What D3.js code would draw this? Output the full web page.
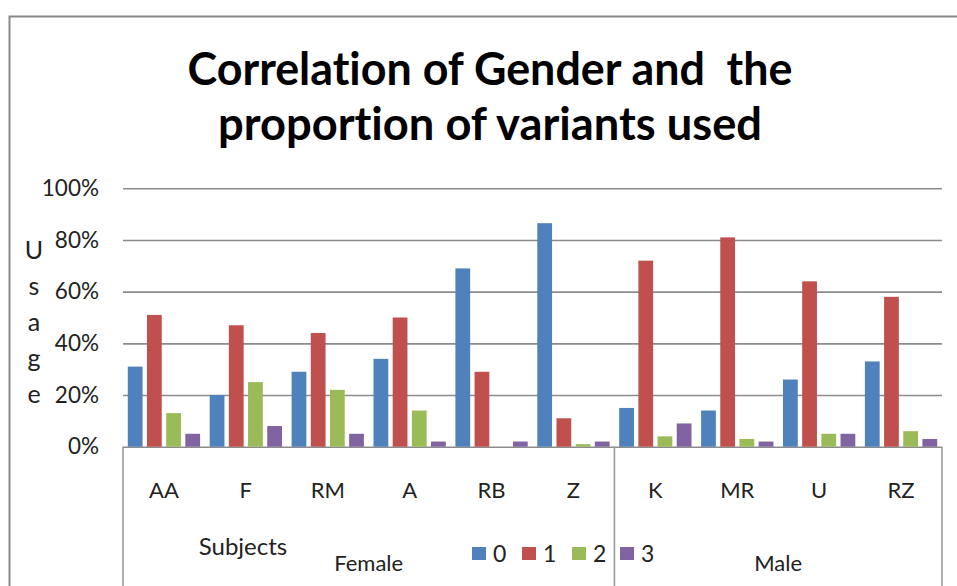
<!DOCTYPE html>
<html>
<head>
<meta charset="utf-8">
<script src="https://cdn.jsdelivr.net/npm/d3@7"></script>
<style>
  html, body { margin: 0; padding: 0; background: #fff; }
  svg { display: block; font-family: Lato, "Open Sans", sans-serif; font-variant-ligatures: none; }
  text { font-variant-ligatures: none; font-feature-settings: "liga" 0, "clig" 0; }
</style>
</head>
<body>
<svg id="chart" width="957" height="586"></svg>
<script>
// ---- data ----
const categories = ["AA", "F", "RM", "A", "RB", "Z", "K", "MR", "U", "RZ"];
const seriesKeys = ["0", "1", "2", "3"];
const series0 = [31, 20, 29, 34, 69, 86.5, 15, 14, 26, 33];
const series1 = [51, 47, 44, 50, 29, 11, 72, 81, 64, 58];
const series2 = [13, 25, 22, 14, 0, 1, 4, 3, 5, 6];
const series3 = [5, 8, 5, 2, 2, 2, 9, 2, 5, 3];
const groupNames = ["Female", "Male"];
const groupSizes = [6, 4];
const yTicks = [0, 20, 40, 60, 80, 100];
const colors = ["#4F81BD", "#C0504D", "#9BBB59", "#8064A2"];
const titleLines = ["Correlation of Gender and  the", "proportion of variants used"];
const yTitle = "Usage";
const xTitle = "Subjects";

const seriesValues = [series0, series1, series2, series3];

const svg = d3.select("#chart");

// outer frame
svg.append("rect")
  .attr("x", 9.5).attr("y", 16.5)
  .attr("width", 1000).attr("height", 1000)
  .attr("fill", "none").attr("stroke", "#8a8a8a").attr("stroke-width", 2);

// scales
const plotLeft = 123, plotRight = 942, plotTop = 188.3, plotBottom = 446.7;
const x0 = d3.scaleBand().domain(categories).range([plotLeft, plotRight]).padding(0);
const x1 = d3.scaleBand().domain(seriesKeys).range([0, x0.bandwidth()])
  .paddingInner(0.23).paddingOuter(0.25);
const y = d3.scaleLinear().domain([0, 100]).range([plotBottom, plotTop]);
const color = d3.scaleOrdinal().domain(seriesKeys).range(colors);

// y axis with gridlines
const yAxis = d3.axisLeft(y).tickValues(yTicks)
  .tickSize(-(plotRight - plotLeft)).tickPadding(24)
  .tickFormat(d => d + "%");
const gy = svg.append("g").attr("transform", `translate(${plotLeft},0)`).call(yAxis);
gy.select(".domain").remove();
gy.selectAll(".tick line").attr("stroke", "#8c8c8c").attr("stroke-width", 1.6);
gy.selectAll(".tick text").attr("font-size", 22.5).attr("fill", "#222")
  .attr("font-family", "Lato, sans-serif");

// bars
const rows = categories.map((c, i) => ({ cat: c, vals: seriesKeys.map((k, j) => ({ key: k, v: seriesValues[j][i] })) }));
const gBars = svg.append("g");
gBars.selectAll("g").data(rows).join("g")
  .attr("transform", d => `translate(${x0(d.cat)},0)`)
  .selectAll("rect").data(d => d.vals.filter(e => e.v > 0)).join("rect")
  .attr("x", d => x1(d.key))
  .attr("width", x1.bandwidth())
  .attr("y", d => y(d.v))
  .attr("height", d => y(0) - y(d.v))
  .attr("fill", d => color(d.key));

// category axis box: vertical separators at group boundaries
let idx = 0;
const boundaries = [x0(categories[0])];
const groupCenters = [];
groupSizes.forEach((n, g) => {
  const start = x0(categories[idx]);
  const end = x0(categories[idx + n - 1]) + x0.bandwidth();
  boundaries.push(end);
  groupCenters.push({ name: groupNames[g], cx: (start + end) / 2 });
  idx += n;
});
svg.append("g").selectAll("line").data(boundaries).join("line")
  .attr("x1", d => d).attr("x2", d => d)
  .attr("y1", plotBottom).attr("y2", 600)
  .attr("stroke", "#9a9a9a").attr("stroke-width", 1.6);

// category labels
svg.append("g").selectAll("text").data(categories).join("text")
  .attr("x", d => x0(d) + x0.bandwidth() / 2)
  .attr("y", 498)
  .attr("text-anchor", "middle")
  .attr("font-size", 22).attr("fill", "#222")
  .text(d => d);

// group labels
svg.append("g").selectAll("text").data(groupCenters).join("text")
  .attr("x", d => d.cx).attr("y", 571)
  .attr("text-anchor", "middle")
  .attr("font-size", 22).attr("fill", "#222")
  .text(d => d.name);

// x title
svg.append("text").attr("x", 243).attr("y", 555)
  .attr("text-anchor", "middle").attr("font-size", 24).attr("fill", "#222")
  .text(xTitle);

// y title (stacked letters)
const yt = svg.append("text").attr("text-anchor", "middle").attr("font-size", 25).attr("fill", "#222");
yTitle.split("").forEach((ch, i) => {
  yt.append("tspan").attr("x", 34).attr("y", 259 + i * 36).text(ch);
});

// legend
const legendX = [472, 522, 572, 620];
const lg = svg.append("g").selectAll("g").data(seriesKeys).join("g")
  .attr("transform", (d, i) => `translate(${legendX[i]},547)`);
lg.append("rect").attr("width", 14).attr("height", 13).attr("fill", d => color(d));
lg.append("text").attr("x", 21).attr("y", 15)
  .attr("font-size", 23).attr("fill", "#222").text(d => d);

// title
const titleBaselines = [85, 140];
const titleWidths = [605, 544];
svg.append("g").selectAll("text").data(titleLines).join("text")
  .attr("x", 490).attr("y", (d, i) => titleBaselines[i])
  .attr("text-anchor", "middle")
  .style("white-space", "pre")
  .attr("font-size", 45).attr("font-weight", "bold").attr("fill", "#000")
  .attr("textLength", (d, i) => titleWidths[i])
  .attr("lengthAdjust", "spacingAndGlyphs")
  .text(d => d);
</script>
</body>
</html>
